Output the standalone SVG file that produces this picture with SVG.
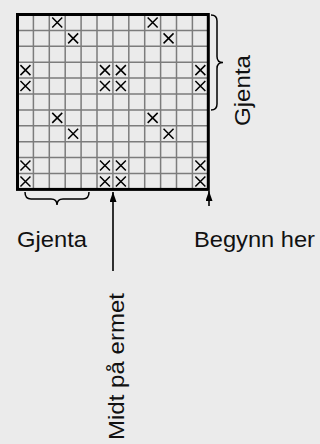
<svg xmlns="http://www.w3.org/2000/svg" xmlns:xlink="http://www.w3.org/1999/xlink" width="320" height="444" viewBox="0 0 320 444">
<style>
.bg{fill:#ebebeb}
.gl{stroke:#7c7c7c;stroke-width:1.5;fill:none}
.border{stroke:#000;stroke-width:3;fill:none}
.x{stroke:#000;stroke-width:1.5;fill:none}
.conn{stroke:#000;stroke-width:1.6;fill:none}
.brace{stroke:#000;stroke-width:1.5;fill:none}
.lbl{font-family:"Liberation Sans",Arial,Helvetica,sans-serif;font-size:22.5px;fill:#111}
</style>
<defs>
<path id="xm" class="x" d="M-5,-5 L5,5 M5,-5 L-5,5"/>
<marker id="ah" markerUnits="userSpaceOnUse" markerWidth="11" markerHeight="8" refX="10" refY="3.5" orient="auto">
<path d="M0,0 L10,3.5 L0,7 z" fill="#000"/>
</marker>
</defs>
<rect class="bg" x="0" y="0" width="320" height="444"/>
<g id="grid">
<path class="gl" d="M33.4,14.5V189.4M49.3,14.5V189.4M65.2,14.5V189.4M81.1,14.5V189.4M97,14.5V189.4M112.9,14.5V189.4M128.8,14.5V189.4M144.7,14.5V189.4M160.6,14.5V189.4M176.5,14.5V189.4M192.4,14.5V189.4"/>
<path class="gl" d="M17.5,30.4H208.3M17.5,46.3H208.3M17.5,62.2H208.3M17.5,78.1H208.3M17.5,94H208.3M17.5,109.9H208.3M17.5,125.8H208.3M17.5,141.7H208.3M17.5,157.6H208.3M17.5,173.5H208.3"/>
<g id="marks">
<use xlink:href="#xm" x="57.25" y="22.45"/>
<use xlink:href="#xm" x="152.65" y="22.45"/>
<use xlink:href="#xm" x="73.15" y="38.35"/>
<use xlink:href="#xm" x="168.55" y="38.35"/>
<use xlink:href="#xm" x="25.45" y="70.15"/>
<use xlink:href="#xm" x="104.95" y="70.15"/>
<use xlink:href="#xm" x="120.85" y="70.15"/>
<use xlink:href="#xm" x="200.35" y="70.15"/>
<use xlink:href="#xm" x="25.45" y="86.05"/>
<use xlink:href="#xm" x="104.95" y="86.05"/>
<use xlink:href="#xm" x="120.85" y="86.05"/>
<use xlink:href="#xm" x="200.35" y="86.05"/>
<use xlink:href="#xm" x="57.25" y="117.85"/>
<use xlink:href="#xm" x="152.65" y="117.85"/>
<use xlink:href="#xm" x="73.15" y="133.75"/>
<use xlink:href="#xm" x="168.55" y="133.75"/>
<use xlink:href="#xm" x="25.45" y="165.55"/>
<use xlink:href="#xm" x="104.95" y="165.55"/>
<use xlink:href="#xm" x="120.85" y="165.55"/>
<use xlink:href="#xm" x="200.35" y="165.55"/>
<use xlink:href="#xm" x="25.45" y="181.45"/>
<use xlink:href="#xm" x="104.95" y="181.45"/>
<use xlink:href="#xm" x="120.85" y="181.45"/>
<use xlink:href="#xm" x="200.35" y="181.45"/>
</g>
<rect class="border" x="17.5" y="14.5" width="190.8" height="174.9"/>
</g>
<g id="connectors">
<path class="brace" d="M211,15 Q217,15 217,21 V56.5 Q217,62.5 223,62.5 Q217,62.5 217,68.5 V104 Q217,110 211,110"/>
<path class="brace" d="M25,192 Q25,199 31,199 H51 Q57,199 57,205 Q57,199 63,199 H83 Q89,199 89,192"/>
<line class="conn" x1="113" y1="271" x2="113" y2="192" marker-end="url(#ah)"/>
<line class="conn" x1="209" y1="206" x2="209" y2="191" marker-end="url(#ah)"/>
</g>
<g id="label-gjenta-bottom"><text class="lbl" x="17" y="247" textLength="70" lengthAdjust="spacingAndGlyphs">Gjenta</text></g>
<g id="label-begynn"><text class="lbl" x="194" y="247" textLength="121" lengthAdjust="spacingAndGlyphs">Begynn her</text></g>
<g id="label-gjenta-right"><text class="lbl" transform="translate(250,126) rotate(-90)" textLength="71" lengthAdjust="spacingAndGlyphs">Gjenta</text></g>
<g id="label-midt"><text class="lbl" transform="translate(124,440) rotate(-90)" textLength="147" lengthAdjust="spacingAndGlyphs">Midt på ermet</text></g>
</svg>
